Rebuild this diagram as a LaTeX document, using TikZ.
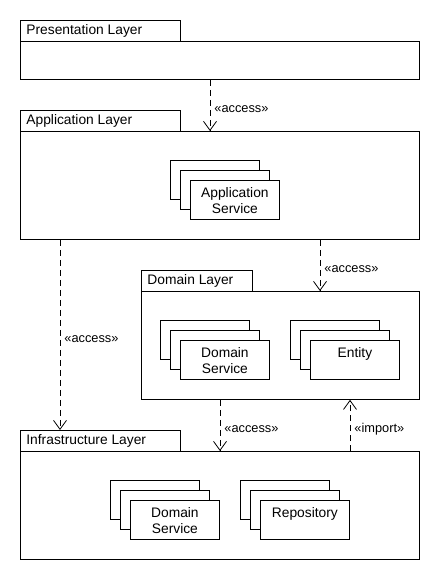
\documentclass[tikz,border=0pt]{standalone}
\usepackage{fontspec}
\setmainfont{Liberation Sans}
\usetikzlibrary{arrows.meta}
\newcommand\stackbox[4]{%
  \node[sbox] (#1a) at (#2,#3) {};
  \node[sbox] (#1b) at (#2+10,#3+10) {};
  \node[sbox] (#1) at (#2+20,#3+20) {};
  \node[stxt] (#1t) at (#1.north) {#4};
}
\begin{document}
\begin{tikzpicture}[x=1pt,y=-1pt, line width=0.8pt,
  box/.style={draw, fill=white, inner sep=0pt, anchor=north west},
  tab/.style={box, minimum height=21pt},
  sbox/.style={box, minimum width=89pt, minimum height=39pt},
  stxt/.style={anchor=north, yshift=-7pt, inner sep=0pt, align=center, font=\fontsize{13.8}{16.5}\selectfont},
  tablabel/.style={anchor=west, inner sep=0pt, font=\fontsize{13.8}{15}\selectfont},
  dep/.style={dash pattern=on 6pt off 4pt, -{Straight Barb[length=9pt,width=13pt]}},
  lbl/.style={midway, anchor=west, inner sep=0pt, xshift=4pt, yshift=-4pt, font=\fontsize{12.8}{15}\selectfont}]
\useasboundingbox (0,0) rectangle (440,580);
% Presentation
\node[box, minimum width=399pt, minimum height=38pt] (pbody) at (20,41) {};
\node[tab, minimum width=160pt] (ptab) at (20,20) {};
\node[tablabel] (plabel) at (26,31) {Presentation Layer};
% Application
\node[box, minimum width=399pt, minimum height=108pt] (abody) at (20,131) {};
\node[tab, minimum width=160pt] (atab) at (20,110) {};
\node[tablabel] (alabel) at (26,121) {Application Layer};
\stackbox{appsvc}{170}{160}{Application\\Service}
% Domain
\node[box, minimum width=278pt, minimum height=108pt] (dbody) at (141,291) {};
\node[tab, minimum width=111pt] (dtab) at (141,270) {};
\node[tablabel] (dlabel) at (147,281) {Domain Layer};
\stackbox{dsvc}{160}{320}{Domain\\Service}
\stackbox{ent}{290}{320}{Entity}
% Infrastructure
\node[box, minimum width=399pt, minimum height=108pt] (ibody) at (20,451) {};
\node[tab, minimum width=160pt] (itab) at (20,430) {};
\node[tablabel] (ilabel) at (26,441) {Infrastructure Layer};
\stackbox{isvc}{110}{480}{Domain\\Service}
\stackbox{repo}{240}{480}{Repository}
% connectors
\coordinate (x1) at (210,0);
\coordinate (x2) at (60,0);
\coordinate (x3) at (320,0);
\coordinate (x4) at (220,0);
\coordinate (x5) at (350,0);
\draw[dep] (x1 |- pbody.south) -- (x1 |- abody.north) node[lbl] (l1) {«access»};
\draw[dep] (x2 |- abody.south) -- (x2 |- itab.north) node[lbl] (l2) {«access»};
\draw[dep] (x3 |- abody.south) -- (x3 |- dbody.north) node[lbl] (l3) {«access»};
\draw[dep] (x4 |- dbody.south) -- (x4 |- ibody.north) node[lbl] (l4) {«access»};
\draw[dep] (x5 |- ibody.north) -- (x5 |- dbody.south) node[lbl] (l5) {«import»};
\end{tikzpicture}
\end{document}
